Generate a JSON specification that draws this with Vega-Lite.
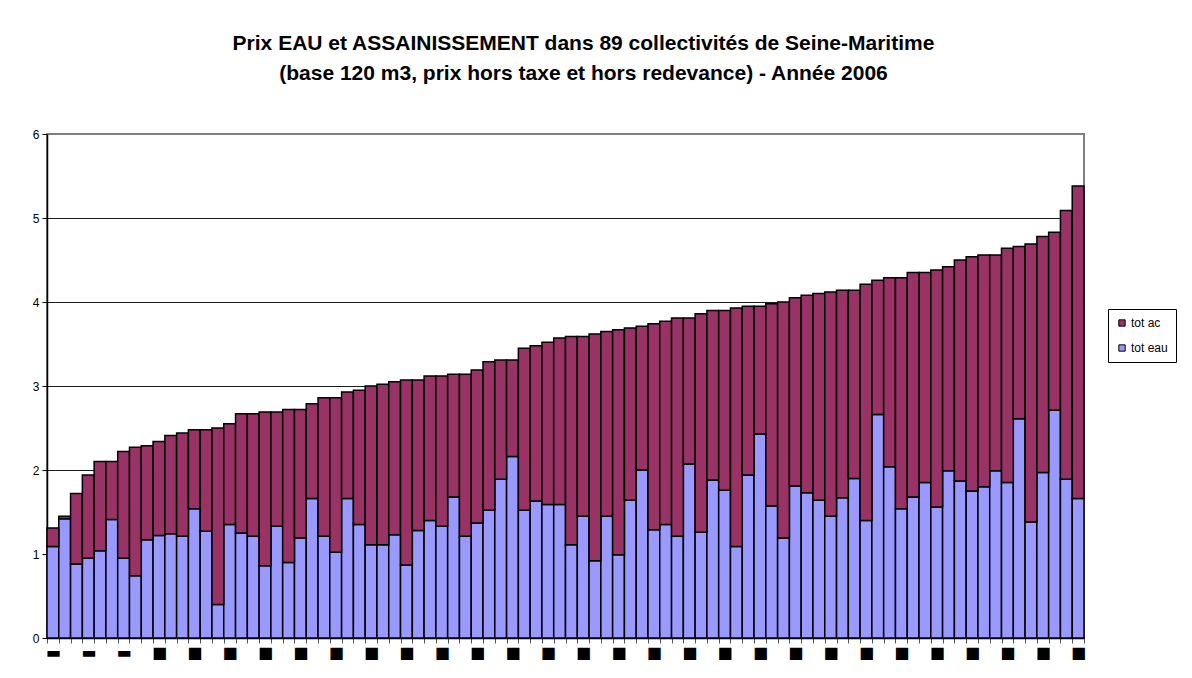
{
  "$schema": "https://vega.github.io/schema/vega-lite/v6.json",
  "autosize": {"type": "none"},
  "width": 1037,
  "height": 504,
  "padding": {"left": 47, "top": 134, "right": 108, "bottom": 40},
  "background": "white",
  "title": {
    "text": ["Prix EAU et ASSAINISSEMENT dans 89 collectivités de Seine-Maritime", "(base 120 m3, prix hors taxe et hors redevance) - Année 2006"],
    "font": "Liberation Sans",
    "fontSize": 21,
    "fontWeight": "bold",
    "lineHeight": 30,
    "anchor": "middle",
    "dx": 18,
    "offset": 44,
    "color": "black"
  },
  "data": {
    "values": [
      {"c": 1, "total": 1.31, "eau": 1.09},
      {"c": 2, "total": 1.45, "eau": 1.42},
      {"c": 3, "total": 1.72, "eau": 0.88},
      {"c": 4, "total": 1.94, "eau": 0.95},
      {"c": 5, "total": 2.10, "eau": 1.04},
      {"c": 6, "total": 2.10, "eau": 1.41},
      {"c": 7, "total": 2.22, "eau": 0.95},
      {"c": 8, "total": 2.27, "eau": 0.74},
      {"c": 9, "total": 2.29, "eau": 1.17},
      {"c": 10, "total": 2.34, "eau": 1.22},
      {"c": 11, "total": 2.41, "eau": 1.24},
      {"c": 12, "total": 2.44, "eau": 1.21},
      {"c": 13, "total": 2.48, "eau": 1.54},
      {"c": 14, "total": 2.48, "eau": 1.27},
      {"c": 15, "total": 2.50, "eau": 0.40},
      {"c": 16, "total": 2.55, "eau": 1.35},
      {"c": 17, "total": 2.67, "eau": 1.25},
      {"c": 18, "total": 2.67, "eau": 1.21},
      {"c": 19, "total": 2.69, "eau": 0.86},
      {"c": 20, "total": 2.69, "eau": 1.33},
      {"c": 21, "total": 2.72, "eau": 0.90},
      {"c": 22, "total": 2.72, "eau": 1.19},
      {"c": 23, "total": 2.79, "eau": 1.66},
      {"c": 24, "total": 2.86, "eau": 1.21},
      {"c": 25, "total": 2.86, "eau": 1.02},
      {"c": 26, "total": 2.93, "eau": 1.66},
      {"c": 27, "total": 2.95, "eau": 1.35},
      {"c": 28, "total": 3.00, "eau": 1.11},
      {"c": 29, "total": 3.02, "eau": 1.11},
      {"c": 30, "total": 3.05, "eau": 1.23},
      {"c": 31, "total": 3.07, "eau": 0.87},
      {"c": 32, "total": 3.07, "eau": 1.28},
      {"c": 33, "total": 3.12, "eau": 1.40},
      {"c": 34, "total": 3.12, "eau": 1.33},
      {"c": 35, "total": 3.14, "eau": 1.68},
      {"c": 36, "total": 3.14, "eau": 1.21},
      {"c": 37, "total": 3.19, "eau": 1.37},
      {"c": 38, "total": 3.29, "eau": 1.52},
      {"c": 39, "total": 3.31, "eau": 1.89},
      {"c": 40, "total": 3.31, "eau": 2.16},
      {"c": 41, "total": 3.45, "eau": 1.52},
      {"c": 42, "total": 3.48, "eau": 1.63},
      {"c": 43, "total": 3.52, "eau": 1.59},
      {"c": 44, "total": 3.57, "eau": 1.59},
      {"c": 45, "total": 3.59, "eau": 1.11},
      {"c": 46, "total": 3.59, "eau": 1.45},
      {"c": 47, "total": 3.62, "eau": 0.92},
      {"c": 48, "total": 3.65, "eau": 1.45},
      {"c": 49, "total": 3.67, "eau": 0.99},
      {"c": 50, "total": 3.69, "eau": 1.64},
      {"c": 51, "total": 3.71, "eau": 2.00},
      {"c": 52, "total": 3.74, "eau": 1.29},
      {"c": 53, "total": 3.77, "eau": 1.35},
      {"c": 54, "total": 3.81, "eau": 1.21},
      {"c": 55, "total": 3.81, "eau": 2.07},
      {"c": 56, "total": 3.86, "eau": 1.26},
      {"c": 57, "total": 3.90, "eau": 1.88},
      {"c": 58, "total": 3.90, "eau": 1.76},
      {"c": 59, "total": 3.93, "eau": 1.09},
      {"c": 60, "total": 3.95, "eau": 1.94},
      {"c": 61, "total": 3.95, "eau": 2.43},
      {"c": 62, "total": 3.98, "eau": 1.57},
      {"c": 63, "total": 4.00, "eau": 1.19},
      {"c": 64, "total": 4.05, "eau": 1.81},
      {"c": 65, "total": 4.08, "eau": 1.73},
      {"c": 66, "total": 4.10, "eau": 1.64},
      {"c": 67, "total": 4.12, "eau": 1.45},
      {"c": 68, "total": 4.14, "eau": 1.67},
      {"c": 69, "total": 4.14, "eau": 1.90},
      {"c": 70, "total": 4.21, "eau": 1.40},
      {"c": 71, "total": 4.26, "eau": 2.66},
      {"c": 72, "total": 4.29, "eau": 2.04},
      {"c": 73, "total": 4.29, "eau": 1.54},
      {"c": 74, "total": 4.35, "eau": 1.68},
      {"c": 75, "total": 4.35, "eau": 1.85},
      {"c": 76, "total": 4.38, "eau": 1.56},
      {"c": 77, "total": 4.42, "eau": 1.99},
      {"c": 78, "total": 4.50, "eau": 1.87},
      {"c": 79, "total": 4.54, "eau": 1.75},
      {"c": 80, "total": 4.56, "eau": 1.80},
      {"c": 81, "total": 4.56, "eau": 1.99},
      {"c": 82, "total": 4.64, "eau": 1.85},
      {"c": 83, "total": 4.66, "eau": 2.61},
      {"c": 84, "total": 4.69, "eau": 1.38},
      {"c": 85, "total": 4.78, "eau": 1.97},
      {"c": 86, "total": 4.83, "eau": 2.71},
      {"c": 87, "total": 5.09, "eau": 1.89},
      {"c": 88, "total": 5.38, "eau": 1.66}
    ]
  },
  "encoding": {
    "x": {
      "field": "c",
      "type": "ordinal",
      "scale": {"paddingInner": 0, "paddingOuter": 0},
      "axis": {
        "title": null,
        "labelAngle": 0,
        "tickBand": "extent",
        "tickSize": 5,
        "tickColor": "#555555",
        "domainColor": "black",
        "domainWidth": 1.5,
        "labelExpr": "(datum.value - 1) % 3 == 0 ? (datum.value <= 7 ? '▬' : '■') : ''",
        "labelFont": "DejaVu Sans",
        "labelFontSize": 16,
        "labelColor": "black",
        "labelPadding": 1,
        "labelOverlap": false
      }
    }
  },
  "layer": [
    {
      "mark": {"type": "bar", "stroke": "black", "strokeWidth": 1.5},
      "encoding": {
        "y": {
          "field": "eau",
          "type": "quantitative",
          "scale": {"domain": [0, 6], "nice": false},
          "axis": {
            "title": null,
            "values": [0, 1, 2, 3, 4, 5, 6],
            "format": "d",
            "grid": true,
            "gridColor": {"condition": {"test": "datum.value == 6", "value": "#808080"}, "value": "#1a1a1a"},
            "gridWidth": 1,
            "tickSize": 5,
            "tickColor": "black",
            "domainColor": "black",
            "domainWidth": 1.5,
            "labelFont": "Liberation Sans",
            "labelFontSize": 12,
            "labelColor": "black",
            "labelPadding": 3
          }
        },
        "color": {
          "datum": "tot eau",
          "type": "nominal",
          "scale": {"domain": ["tot ac", "tot eau"], "range": ["#993366", "#9999FF"]},
          "legend": {
            "orient": "none",
            "legendX": 1061,
            "legendY": 175,
            "title": null,
            "strokeColor": "black",
            "fillColor": "white",
            "padding": 8,
            "symbolType": "square",
            "symbolSize": 40,
            "symbolStrokeColor": "black",
            "symbolStrokeWidth": 1,
            "labelFont": "Liberation Sans",
            "labelFontSize": 12,
            "labelColor": "black",
            "rowPadding": 13,
            "labelOffset": 3
          }
        }
      }
    },
    {
      "mark": {"type": "bar", "stroke": "black", "strokeWidth": 1.5},
      "encoding": {
        "y": {"field": "eau", "type": "quantitative"},
        "y2": {"field": "total"},
        "color": {"datum": "tot ac", "type": "nominal"}
      }
    }
  ],
  "config": {
    "view": {"stroke": "#808080", "strokeWidth": 2}
  }
}
